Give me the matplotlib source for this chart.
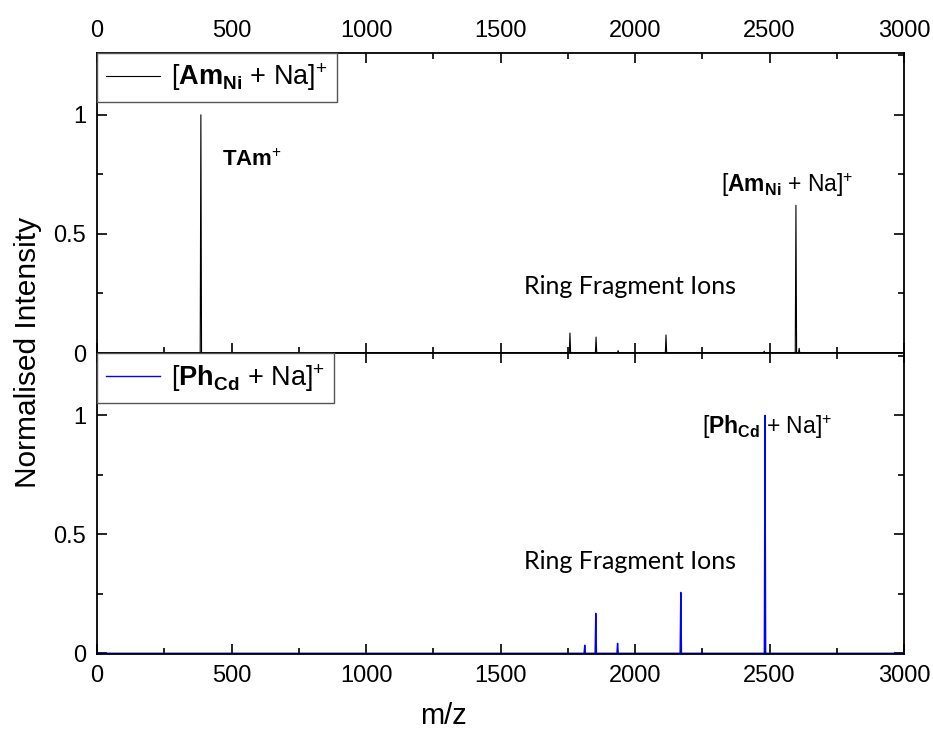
import numpy as np
import matplotlib.pyplot as plt
from matplotlib.ticker import MultipleLocator

plt.rcParams['font.family'] = ['Liberation Sans', 'DejaVu Sans']
plt.rcParams['mathtext.fontset'] = 'custom'
plt.rcParams['mathtext.rm'] = 'Liberation Sans'
plt.rcParams['mathtext.it'] = 'Liberation Sans:italic'
plt.rcParams['mathtext.bf'] = 'Liberation Sans:bold'

# Peak lists (m/z, normalised intensity)
am_mz = [386, 1758, 1855, 1937, 2115, 2480, 2598, 2610]
am_int = [1.0, 0.084, 0.067, 0.010, 0.076, 0.008, 0.62, 0.02]
ph_mz = [1813, 1854, 1935, 2170, 2249, 2483]
ph_int = [0.034, 0.168, 0.042, 0.256, 0.006, 1.0]

am_label = r'$[\mathbf{Am_{Ni}}\ \mathrm{+\ Na}]^{+}$'
ph_label = r'$[\mathbf{Ph_{Cd}}\ \mathrm{+\ Na}]^{+}$'


def spectrum(mz, inten, w=2.5):
    xs, ys = [0], [0]
    for m, h in zip(mz, inten):
        xs += [m - w, m, m + w]
        ys += [0, h, 0]
    xs.append(3000)
    ys.append(0)
    return np.array(xs), np.array(ys)


fig = plt.figure(figsize=(9.33, 7.34), dpi=100)
ax1 = fig.add_axes([0.104, 0.519, 0.865, 0.409])
ax2 = fig.add_axes([0.104, 0.109, 0.865, 0.410])

x, y = spectrum(am_mz, am_int)
ax1.plot(x, y, color='black', lw=0.8, label=am_label)
x, y = spectrum(ph_mz, ph_int)
ax2.plot(x, y, color='#0000ff', lw=1.0, label=ph_label)

for ax in (ax1, ax2):
    ax.set_xlim(0, 3000)
    ax.xaxis.set_major_locator(MultipleLocator(500))
    ax.xaxis.set_minor_locator(MultipleLocator(250))
    ax.yaxis.set_major_locator(MultipleLocator(0.5))
    ax.yaxis.set_minor_locator(MultipleLocator(0.25))
    ax.tick_params(which='both', direction='in', top=True, right=True,
                   labelsize=17, width=1.2, pad=8)
    ax.tick_params(which='major', length=7)
    ax.tick_params(which='minor', length=4)
    ax.yaxis.set_major_formatter(plt.FuncFormatter(lambda v, p: f'{v:g}'))
    for s in ax.spines.values():
        s.set_linewidth(1.3)
    leg = ax.legend(loc='upper left', borderaxespad=0, fancybox=False,
                    edgecolor='#555555', framealpha=1, fontsize=19.5,
                    handlelength=2.0, handletextpad=0.4, borderpad=0.33)
    leg.get_frame().set_linewidth(1.0)

ax1.set_ylim(0, 1.26)
ax2.set_ylim(-0.003, 1.262)
ax1.tick_params(labelbottom=False, labeltop=True)
fig.text(0.475, 0.025, 'm/z', fontsize=21, ha='center', va='center')
fig.text(0.03, 0.52, 'Normalised Intensity', rotation=90, fontsize=21.5,
         ha='center', va='center')

ax1.text(465, 0.81, r'$\mathbf{TAm}^{+}$', fontsize=16, va='center')
ax1.text(1981, 0.28, 'Ring Fragment Ions', fontsize=18, ha='center',
         va='center', family=['Lato', 'DejaVu Sans'])
ax1.text(2565, 0.705, am_label, fontsize=16.5, ha='center', va='center')
ax2.text(2490, 0.95, ph_label, fontsize=16.5, ha='center', va='center')
ax2.text(1981, 0.387, 'Ring Fragment Ions', fontsize=18, ha='center',
         va='center', family=['Lato', 'DejaVu Sans'])

fig.savefig('out.png', dpi=100)
